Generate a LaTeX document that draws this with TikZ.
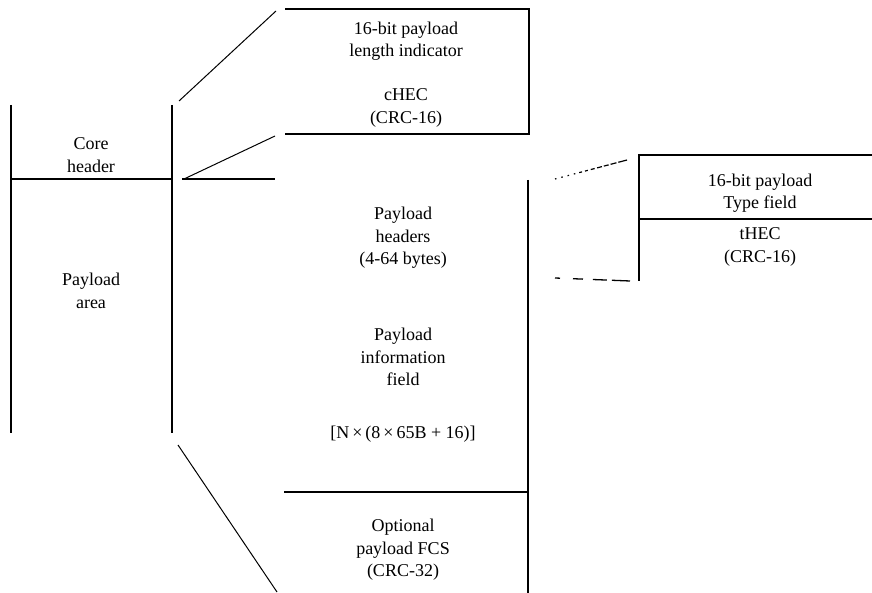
\documentclass[tikz,border=0pt]{standalone}
\usepackage{fontspec}
\setmainfont{Liberation Serif}
\begin{document}
\begin{tikzpicture}[x=1pt,y=-1pt,
  ln/.style={line width=1.4pt, line cap=butt},
  thin/.style={line width=1pt},
  lbl/.style={align=center, inner sep=0pt, font=\fontsize{18}{22.5}\selectfont}]
\useasboundingbox (0,0) rectangle (872,593);
% left frame
\coordinate (LT) at (11,105); \coordinate (LB) at (11,433);
\coordinate (RT) at (172,105); \coordinate (RB) at (172,433);
\coordinate (LM) at (11,179); \coordinate (RM) at (172,179);
\draw[ln] (LT) -- (LB);
\draw[ln] (RT) -- (RB);
\draw[ln] (LM) -- (RM);
\node[lbl] (core) at (91,155) {Core\\header};
\node[lbl] (parea) at (91,291) {Payload\\area};
% top box
\coordinate (A1) at (285,9); \coordinate (A2) at (529,9);
\coordinate (A3) at (529,134); \coordinate (A4) at (285,134);
\draw[ln] (A1) -- (A2) -- (A3) -- (A4);
\node[lbl] (len) at (406,41) {16-bit payload\\length indicator};
\node[lbl] (chec) at (406,108) {cHEC\\(CRC-16)};
% connectors from core header
\coordinate (s1a) at (179,101); \coordinate (s1b) at (276,11);
\coordinate (s2a) at (184,179); \coordinate (s2b) at (275,136);
\coordinate (h1a) at (182,179); \coordinate (h1b) at (275,179);
\draw[thin] (s1a) -- (s1b);
\draw[thin] (s2a) -- (s2b);
\draw[ln] (h1a) -- (h1b);
% middle box
\coordinate (M1) at (528,180); \coordinate (M2) at (528,593);
\coordinate (M3) at (284,492); \coordinate (M4) at (528,492);
\draw[ln] (M1) -- (M2);
\draw[ln] (M3) -- (M4);
\node[lbl] (ph) at (403,238) {Payload\\headers\\(4-64 bytes)};
\node[lbl] (pif) at (403,357) {Payload\\information\\field};
\node[lbl] (nx) at (403,434) {[N\,×\,(8\,×\,65B + 16)]};
\node[lbl] (fcs) at (403,550) {Optional\\payload FCS\\(CRC-32)};
% bottom slant
\coordinate (s3a) at (178,445); \coordinate (s3b) at (277,592);
\draw[thin] (s3a) -- (s3b);
% right box
\coordinate (R1) at (639,155); \coordinate (R2) at (872,155);
\coordinate (R3) at (639,281); \coordinate (R4) at (639,219); \coordinate (R5) at (872,219);
\draw[ln] (R2) -- (R1) -- (R3);
\draw[ln] (R4) -- (R5);
\node[lbl] (type) at (760,193) {16-bit payload\\Type field};
\node[lbl] (thec) at (760,247) {tHEC\\(CRC-16)};
% dotted / dashed connectors
\coordinate (d1a) at (555,179); \coordinate (d1b) at (627,160);
\draw[line width=1.2pt, dash pattern=on 1.5pt off 5pt on 1.5pt off 5pt on 1.5pt off 5pt on 1.5pt off 4pt on 3pt off 3pt on 3pt off 3pt on 4pt off 2.5pt on 5pt off 2pt on 5pt off 2pt on 6pt off 2pt on 10pt] (d1a) -- (d1b);
\coordinate (d2a) at (555,278); \coordinate (d2b) at (630,281);
\draw[line width=1.3pt, dash pattern=on 5pt off 13pt on 10pt off 10pt on 14pt off 5pt on 20pt] (d2a) -- (d2b);
\end{tikzpicture}
\end{document}
